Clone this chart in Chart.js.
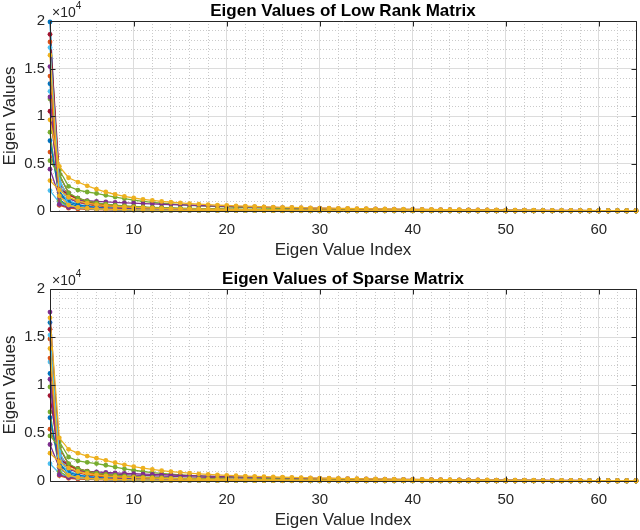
<!DOCTYPE html>
<html lang="en">
<head>
    <meta charset="UTF-8">
    <title>Eigen Values</title>
    <script src="https://cdn.jsdelivr.net/npm/chart.js"></script>
    <style>
        body { margin: 0; background: #fff; overflow: hidden; }
        .panel { position: absolute; left: 0; width: 640px; }
    </style>
</head>
<body>
    <div class="panel" style="top:0;height:265px"><canvas id="lowRankChart"></canvas></div>
    <div class="panel" style="top:265px;height:270px"><canvas id="sparseChart"></canvas></div>

    <script>
        // eigen value index 1..64
        const eigenIndex = [1,2,3,4,5,6,7,8,9,10,11,12,13,14,15,16,
            17,18,19,20,21,22,23,24,25,26,27,28,29,30,31,32,
            33,34,35,36,37,38,39,40,41,42,43,44,45,46,47,48,
            49,50,51,52,53,54,55,56,57,58,59,60,61,62,63,64];

        const xTicks = [10, 20, 30, 40, 50, 60];
        const xMinorTicks = [2,4,6,8,12,14,16,18,22,24,26,28,32,34,36,38,42,44,46,48,52,54,56,58,62,64];
        const yTicks = [0, 5000, 10000, 15000, 20000];
        const yMinorTicks = [1000,2000,3000,4000,6000,7000,8000,9000,11000,12000,13000,14000,16000,17000,18000,19000];

        const matlabColors = ['#0072BD', '#D95319', '#EDB120', '#7E2F8E', '#77AC30', '#4DBEEE', '#A2142F'];

        // ---- low rank matrix ----
        const lr01 = [19900, 1200, 520, 340, 260, 210, 175, 150, 130, 115, 102, 92, 84, 77, 71, 66,
            61, 57, 53, 50, 47, 44, 41, 39, 37, 35, 33, 31, 29, 28, 26, 25,
            24, 22, 21, 20, 19, 18, 17, 16, 15, 14, 13, 12, 12, 11, 10, 10,
            9, 8, 8, 7, 7, 6, 6, 5, 5, 4, 4, 3, 3, 2, 2, 1];
        const lr02 = [17800, 3200, 1400, 900, 680, 540, 450, 385, 335, 295, 262, 236, 214, 195, 179, 165,
            152, 141, 131, 122, 114, 107, 100, 94, 88, 83, 78, 74, 70, 66, 62, 59,
            56, 53, 50, 47, 45, 42, 40, 38, 36, 34, 32, 30, 28, 27, 25, 24,
            22, 21, 20, 18, 17, 16, 15, 14, 13, 12, 11, 10, 9, 8, 7, 6];
        const lr03 = [9600, 4700, 3500, 3050, 2650, 2300, 2000, 1750, 1540, 1370, 1230, 1110, 1010, 920, 845, 780,
            720, 668, 620, 578, 540, 505, 473, 444, 417, 392, 369, 348, 328, 310, 293, 277,
            262, 248, 235, 222, 210, 199, 188, 178, 168, 159, 150, 142, 134, 126, 119, 112,
            105, 99, 93, 87, 81, 76, 71, 66, 61, 56, 51, 47, 43, 39, 35, 31];
        const lr04 = [15200, 2600, 1300, 950, 780, 660, 570, 500, 440, 392, 352, 318, 289, 264, 242, 223,
            206, 191, 177, 165, 154, 144, 135, 127, 119, 112, 106, 100, 94, 89, 84, 80,
            76, 72, 68, 64, 61, 58, 55, 52, 49, 46, 44, 41, 39, 37, 35, 33,
            31, 29, 27, 25, 24, 22, 21, 19, 18, 16, 15, 13, 12, 10, 9, 8];
        const lr05 = [11800, 4300, 2600, 2200, 2000, 1850, 1650, 1470, 1300, 1150, 1020, 910, 815, 735, 665, 605,
            552, 505, 463, 426, 393, 363, 336, 312, 290, 270, 252, 235, 220, 206, 193, 181,
            170, 160, 150, 141, 133, 125, 118, 111, 105, 99, 93, 88, 83, 78, 74, 70,
            66, 62, 58, 55, 52, 49, 46, 43, 40, 37, 35, 33, 31, 29, 27, 25];
        const lr06 = [2150, 900, 420, 300, 240, 200, 170, 148, 130, 116, 104, 94, 86, 79, 73, 67,
            62, 58, 54, 50, 47, 44, 41, 38, 36, 34, 32, 30, 28, 27, 25, 24,
            22, 21, 20, 19, 18, 17, 16, 15, 14, 13, 12, 11, 11, 10, 9, 9,
            8, 8, 7, 7, 6, 6, 5, 5, 4, 4, 3, 3, 3, 2, 2, 2];
        const lr07 = [18600, 3800, 1900, 1250, 950, 770, 645, 552, 480, 422, 375, 336, 303, 275, 251, 230,
            212, 196, 181, 168, 156, 146, 136, 127, 119, 112, 105, 99, 93, 88, 83, 78,
            74, 70, 66, 62, 59, 56, 53, 50, 47, 45, 42, 40, 38, 36, 34, 32,
            30, 28, 27, 25, 24, 22, 21, 19, 18, 17, 15, 14, 13, 11, 10, 9];
        const lr08 = [13400, 2100, 800, 480, 350, 280, 232, 198, 172, 151, 134, 120, 108, 98, 90, 83,
            76, 70, 65, 60, 56, 52, 49, 46, 43, 40, 38, 36, 34, 32, 30, 28,
            27, 25, 24, 23, 21, 20, 19, 18, 17, 16, 15, 14, 13, 13, 12, 11,
            10, 10, 9, 8, 8, 7, 7, 6, 6, 5, 5, 4, 4, 3, 3, 2];
        const lr09 = [6200, 2900, 1700, 1200, 920, 740, 615, 522, 450, 393, 347, 309, 277, 250, 227, 207,
            190, 175, 162, 150, 139, 129, 120, 112, 105, 98, 92, 86, 81, 76, 72, 68,
            64, 60, 57, 54, 51, 48, 45, 43, 40, 38, 36, 34, 32, 30, 28, 27,
            25, 24, 22, 21, 19, 18, 17, 16, 14, 13, 12, 11, 10, 9, 8, 7];
        const lr10 = [16400, 1600, 620, 390, 290, 232, 193, 165, 143, 126, 112, 100, 90, 82, 75, 69,
            63, 58, 54, 50, 46, 43, 40, 37, 35, 33, 31, 29, 27, 25, 24, 22,
            21, 20, 19, 18, 17, 16, 15, 14, 13, 12, 11, 11, 10, 9, 9, 8,
            8, 7, 7, 6, 6, 5, 5, 4, 4, 4, 3, 3, 3, 2, 2, 2];
        const lr11 = [4400, 1500, 1250, 1150, 1080, 1010, 950, 900, 860, 820, 780, 745, 710, 675, 640, 610,
            580, 550, 522, 495, 470, 446, 423, 401, 380, 360, 341, 323, 306, 290, 275, 260,
            246, 233, 220, 208, 197, 186, 176, 166, 157, 148, 140, 132, 124, 117, 110, 104,
            98, 92, 86, 81, 76, 71, 66, 62, 58, 54, 50, 46, 42, 38, 35, 32];
        const lr12 = [8300, 1100, 450, 310, 245, 203, 172, 149, 131, 117, 105, 95, 86, 79, 72, 66,
            61, 57, 53, 49, 46, 43, 40, 38, 35, 33, 31, 29, 28, 26, 25, 23,
            22, 21, 20, 19, 18, 17, 16, 15, 14, 13, 12, 12, 11, 10, 10, 9,
            9, 8, 8, 7, 7, 6, 6, 5, 5, 4, 4, 3, 3, 3, 2, 2];
        const lr13 = [12600, 3400, 1150, 700, 510, 400, 328, 277, 239, 209, 185, 165, 148, 134, 122, 111,
            102, 94, 87, 81, 75, 70, 65, 61, 57, 53, 50, 47, 44, 42, 39, 37,
            35, 33, 31, 30, 28, 27, 25, 24, 23, 22, 21, 20, 19, 18, 17, 16,
            15, 14, 13, 12, 12, 11, 10, 9, 9, 8, 7, 7, 6, 5, 5, 4];
        const lr14 = [10500, 2400, 1700, 1350, 1050, 840, 690, 578, 492, 424, 369, 324, 287, 256, 230, 208,
            189, 172, 158, 145, 134, 124, 115, 107, 100, 93, 87, 82, 77, 72, 68, 64,
            60, 57, 54, 51, 48, 45, 43, 41, 39, 37, 35, 33, 31, 29, 28, 26,
            25, 23, 22, 21, 20, 18, 17, 16, 15, 14, 13, 12, 11, 10, 9, 8];
        const lr15 = [7400, 1750, 950, 640, 480, 385, 320, 273, 237, 208, 185, 166, 150, 136, 124, 114,
            105, 97, 90, 84, 78, 73, 68, 64, 60, 56, 53, 50, 47, 44, 42, 39,
            37, 35, 33, 31, 30, 28, 27, 25, 24, 23, 21, 20, 19, 18, 17, 16,
            15, 14, 13, 12, 12, 11, 10, 9, 9, 8, 7, 7, 6, 5, 5, 4];
        const lr16 = [14200, 600, 300, 215, 172, 145, 125, 110, 98, 88, 80, 73, 67, 62, 57, 53,
            49, 46, 43, 40, 38, 36, 34, 32, 30, 28, 27, 25, 24, 23, 22, 21,
            20, 19, 18, 17, 16, 15, 14, 14, 13, 12, 12, 11, 10, 10, 9, 9,
            8, 8, 7, 7, 6, 6, 5, 5, 5, 4, 4, 3, 3, 3, 2, 2];
        const lr17 = [3200, 2200, 1450, 1050, 820, 670, 565, 487, 427, 379, 340, 307, 279, 255, 234, 216,
            200, 186, 173, 161, 150, 140, 131, 123, 115, 108, 102, 96, 90, 85, 80, 75,
            71, 67, 63, 60, 56, 53, 50, 47, 45, 42, 40, 38, 35, 33, 31, 30,
            28, 26, 24, 23, 21, 20, 18, 17, 16, 14, 13, 12, 11, 10, 9, 8];
        const lr18 = [12000, 700, 380, 330, 300, 280, 262, 246, 232, 219, 207, 196, 186, 176, 167, 159,
            151, 143, 136, 129, 123, 117, 111, 105, 100, 95, 90, 86, 82, 78, 74, 70,
            67, 64, 61, 58, 55, 52, 50, 47, 45, 43, 41, 39, 37, 35, 33, 31,
            30, 28, 27, 25, 24, 22, 21, 20, 18, 17, 16, 15, 14, 13, 12, 11];
        const lr19 = [5300, 3800, 1900, 1350, 1050, 860, 725, 625, 547, 484, 433, 390, 354, 323, 296, 272,
            251, 232, 215, 200, 186, 173, 161, 150, 140, 131, 123, 115, 108, 101, 95, 89,
            84, 79, 74, 70, 66, 62, 58, 55, 52, 49, 46, 43, 41, 38, 36, 34,
            32, 30, 28, 26, 24, 22, 21, 19, 18, 16, 15, 14, 13, 12, 11, 10];
        const lr20 = [17200, 2800, 650, 360, 255, 198, 162, 137, 118, 104, 93, 84, 76, 69, 63, 58,
            54, 50, 47, 44, 41, 38, 36, 34, 32, 30, 28, 27, 25, 24, 23, 21,
            20, 19, 18, 17, 16, 15, 14, 14, 13, 12, 11, 11, 10, 9, 9, 8,
            8, 7, 7, 6, 6, 5, 5, 4, 4, 4, 3, 3, 3, 2, 2, 2];

        // ---- sparse matrix ----
        const sp01 = [16500, 1400, 560, 360, 272, 218, 181, 155, 134, 118, 105, 94, 85, 78, 72, 66,
            61, 57, 53, 49, 46, 43, 40, 38, 35, 33, 31, 29, 28, 26, 25, 23,
            22, 21, 20, 19, 18, 17, 16, 15, 14, 13, 12, 12, 11, 10, 10, 9,
            8, 8, 7, 7, 6, 6, 5, 5, 4, 4, 3, 3, 3, 2, 2, 1];
        const sp02 = [14800, 2900, 1300, 850, 640, 510, 425, 363, 316, 279, 248, 223, 202, 184, 169, 156,
            144, 133, 124, 116, 108, 101, 95, 89, 84, 79, 74, 70, 66, 62, 59, 56,
            53, 50, 47, 45, 42, 40, 38, 36, 34, 32, 30, 28, 27, 25, 24, 22,
            21, 20, 18, 17, 16, 15, 14, 13, 12, 11, 10, 9, 8, 7, 6, 5];
        const sp03 = [17000, 4500, 3300, 2900, 2600, 2380, 2150, 1900, 1680, 1500, 1340, 1200, 1080, 980, 890, 815,
            748, 690, 638, 592, 550, 512, 478, 447, 418, 392, 368, 346, 325, 306, 288, 271,
            255, 240, 226, 213, 201, 190, 179, 169, 159, 150, 141, 133, 125, 118, 111, 104,
            98, 92, 86, 81, 76, 71, 66, 61, 57, 53, 49, 45, 41, 37, 34, 31];
        const sp04 = [17600, 2400, 1200, 1000, 900, 830, 770, 715, 665, 620, 580, 545, 512, 482, 455, 430,
            406, 384, 363, 343, 325, 308, 291, 276, 261, 247, 234, 222, 210, 199, 189, 179,
            169, 160, 152, 144, 136, 129, 122, 115, 109, 103, 97, 92, 87, 82, 77, 73,
            69, 65, 61, 57, 54, 50, 47, 44, 41, 38, 35, 32, 29, 27, 24, 22];
        const sp05 = [9800, 4100, 2500, 2100, 1950, 1820, 1640, 1450, 1270, 1120, 990, 880, 790, 712, 645, 588,
            537, 492, 452, 416, 384, 355, 329, 305, 284, 264, 246, 230, 215, 201, 188, 176,
            165, 155, 146, 137, 129, 121, 114, 108, 102, 96, 90, 85, 80, 76, 72, 68,
            64, 60, 57, 54, 51, 48, 45, 42, 39, 37, 35, 33, 31, 29, 27, 25];
        const sp06 = [1800, 800, 380, 275, 222, 186, 160, 140, 124, 111, 100, 91, 83, 76, 70, 65,
            60, 56, 52, 48, 45, 42, 39, 37, 35, 33, 31, 29, 27, 26, 24, 23,
            21, 20, 19, 18, 17, 16, 15, 14, 13, 12, 12, 11, 10, 10, 9, 9,
            8, 7, 7, 6, 6, 5, 5, 4, 4, 4, 3, 3, 2, 2, 2, 1];
        const sp07 = [15800, 3500, 1750, 1150, 880, 715, 600, 515, 448, 395, 352, 316, 285, 259, 237, 217,
            200, 185, 171, 159, 148, 138, 129, 121, 113, 106, 100, 94, 88, 83, 78, 74,
            70, 66, 62, 59, 56, 53, 50, 47, 45, 42, 40, 38, 36, 34, 32, 30,
            28, 27, 25, 24, 22, 21, 19, 18, 17, 15, 14, 13, 12, 11, 9, 8];
        const sp08 = [11200, 1900, 740, 450, 330, 265, 221, 189, 164, 144, 128, 115, 104, 94, 86, 79,
            73, 67, 62, 58, 54, 50, 47, 44, 41, 39, 36, 34, 32, 30, 29, 27,
            26, 24, 23, 22, 20, 19, 18, 17, 16, 15, 14, 14, 13, 12, 11, 11,
            10, 9, 9, 8, 8, 7, 7, 6, 6, 5, 5, 4, 4, 3, 3, 2];
        const sp09 = [5400, 2700, 1600, 1120, 860, 695, 578, 492, 425, 372, 329, 293, 263, 238, 216, 197,
            181, 167, 154, 143, 133, 124, 115, 108, 101, 94, 88, 83, 78, 73, 69, 65,
            61, 58, 55, 52, 49, 46, 43, 41, 39, 37, 35, 33, 31, 29, 27, 26,
            24, 23, 21, 20, 19, 17, 16, 15, 14, 13, 12, 11, 10, 9, 8, 7];
        const sp10 = [13800, 1500, 590, 370, 275, 220, 183, 157, 136, 120, 107, 96, 87, 79, 72, 66,
            61, 56, 52, 48, 45, 42, 39, 36, 34, 32, 30, 28, 26, 25, 23, 22,
            21, 20, 19, 18, 17, 16, 15, 14, 13, 12, 11, 11, 10, 9, 9, 8,
            8, 7, 7, 6, 6, 5, 5, 4, 4, 4, 3, 3, 3, 2, 2, 2];
        const sp11 = [3800, 1400, 1150, 1060, 1000, 940, 885, 840, 800, 760, 725, 690, 656, 624, 594, 565,
            538, 512, 487, 463, 440, 418, 397, 377, 358, 340, 323, 306, 290, 275, 261, 247,
            234, 222, 210, 199, 188, 178, 168, 159, 150, 142, 134, 126, 119, 112, 106, 100,
            94, 88, 83, 78, 73, 68, 64, 60, 56, 52, 48, 44, 41, 38, 35, 32];
        const sp12 = [7200, 1000, 420, 295, 235, 195, 166, 144, 127, 113, 102, 92, 84, 77, 70, 65,
            60, 56, 52, 48, 45, 42, 39, 37, 34, 32, 30, 29, 27, 26, 24, 23,
            22, 21, 20, 19, 18, 17, 16, 15, 14, 13, 12, 12, 11, 10, 10, 9,
            9, 8, 8, 7, 7, 6, 6, 5, 5, 4, 4, 3, 3, 3, 2, 2];
        const sp13 = [12400, 3100, 1080, 670, 490, 387, 319, 270, 233, 204, 181, 162, 146, 132, 120, 110,
            101, 93, 86, 80, 74, 69, 64, 60, 56, 52, 49, 46, 43, 41, 38, 36,
            34, 32, 30, 29, 27, 26, 24, 23, 22, 21, 20, 19, 18, 17, 16, 15,
            14, 13, 12, 12, 11, 10, 10, 9, 8, 8, 7, 6, 6, 5, 5, 4];
        const sp14 = [8900, 2300, 1650, 1300, 1020, 820, 675, 566, 482, 416, 362, 318, 282, 252, 226, 204,
            186, 170, 156, 143, 132, 122, 113, 105, 98, 92, 86, 80, 75, 71, 67, 63,
            59, 56, 53, 50, 47, 45, 42, 40, 38, 36, 34, 32, 30, 29, 27, 26,
            24, 23, 22, 20, 19, 18, 17, 16, 15, 14, 13, 12, 11, 10, 9, 8];
        const sp15 = [6600, 1650, 900, 610, 460, 370, 308, 263, 228, 200, 178, 160, 144, 131, 120, 110,
            101, 94, 87, 81, 75, 70, 66, 62, 58, 54, 51, 48, 45, 43, 40, 38,
            36, 34, 32, 30, 29, 27, 26, 24, 23, 22, 21, 20, 19, 18, 17, 16,
            15, 14, 13, 12, 11, 11, 10, 9, 8, 8, 7, 6, 6, 5, 5, 4];
        const sp16 = [12800, 560, 285, 205, 165, 139, 120, 106, 95, 85, 77, 70, 65, 60, 55, 51,
            48, 45, 42, 39, 37, 35, 33, 31, 29, 28, 26, 25, 24, 22, 21, 20,
            19, 18, 17, 16, 15, 15, 14, 13, 12, 12, 11, 10, 10, 9, 9, 8,
            8, 7, 7, 6, 6, 5, 5, 5, 4, 4, 3, 3, 3, 2, 2, 2];
        const sp17 = [2900, 2000, 1350, 990, 780, 640, 540, 466, 409, 363, 326, 295, 268, 245, 225, 208,
            193, 179, 167, 155, 145, 136, 127, 119, 112, 105, 99, 93, 88, 83, 78, 73,
            69, 65, 61, 58, 55, 52, 49, 46, 44, 41, 39, 37, 35, 33, 31, 29,
            27, 25, 24, 22, 21, 19, 18, 17, 15, 14, 13, 12, 11, 10, 9, 8];
        const sp18 = [10600, 650, 360, 315, 288, 268, 251, 236, 222, 210, 199, 188, 178, 169, 160, 152,
            145, 138, 131, 124, 118, 112, 107, 101, 96, 92, 87, 83, 79, 75, 71, 68,
            65, 62, 59, 56, 53, 51, 48, 46, 44, 42, 40, 38, 36, 34, 32, 30,
            29, 27, 26, 24, 23, 21, 20, 19, 18, 16, 15, 14, 13, 12, 11, 10];
        const sp19 = [4700, 3600, 1800, 1280, 1000, 820, 692, 597, 523, 463, 414, 373, 339, 309, 283, 260,
            240, 222, 206, 191, 178, 166, 155, 144, 135, 126, 118, 111, 104, 97, 91, 86,
            81, 76, 71, 67, 63, 59, 56, 53, 50, 47, 44, 41, 39, 37, 35, 33,
            31, 29, 27, 25, 23, 21, 20, 18, 17, 16, 15, 14, 13, 12, 11, 10];
        const sp20 = [15200, 2600, 610, 340, 242, 189, 155, 131, 113, 100, 89, 80, 73, 66, 61, 56,
            52, 48, 45, 42, 39, 37, 35, 33, 31, 29, 27, 26, 24, 23, 22, 21,
            20, 19, 18, 17, 16, 15, 14, 13, 12, 12, 11, 10, 10, 9, 9, 8,
            8, 7, 7, 6, 6, 5, 5, 4, 4, 4, 3, 3, 3, 2, 2, 2];

        const lowRankSeries = [lr01, lr02, lr03, lr04, lr05, lr06, lr07, lr08, lr09, lr10,
            lr11, lr12, lr13, lr14, lr15, lr16, lr17, lr18, lr19, lr20];
        const sparseSeries = [sp01, sp02, sp03, sp04, sp05, sp06, sp07, sp08, sp09, sp10,
            sp11, sp12, sp13, sp14, sp15, sp16, sp17, sp18, sp19, sp20];

        const FONT = '"Liberation Sans", Arial, Helvetica, sans-serif';
        const AXIS_COLOR = '#262626';

        // box, inward ticks, title and the x10^4 factor (MATLAB look)
        const matlabFrame = {
            id: 'matlabFrame',
            afterDraw(chart, args, opts) {
                const { ctx, chartArea: a, scales } = chart;
                ctx.save();
                ctx.strokeStyle = AXIS_COLOR;
                ctx.lineWidth = 1;
                const L = Math.round(a.left) + 0.5, R = Math.round(a.right) + 0.5;
                const T = Math.round(a.top) + 0.5, B = Math.round(a.bottom) + 0.5;
                ctx.beginPath();
                ctx.rect(L, T, R - L, B - T);
                xTicks.forEach(v => {
                    const px = Math.round(scales.x.getPixelForValue(v)) + 0.5;
                    ctx.moveTo(px, B); ctx.lineTo(px, B - 5);
                    ctx.moveTo(px, T); ctx.lineTo(px, T + 5);
                });
                yTicks.forEach(v => {
                    const py = Math.round(scales.y.getPixelForValue(v)) + 0.5;
                    ctx.moveTo(L, py); ctx.lineTo(L + 5, py);
                    ctx.moveTo(R, py); ctx.lineTo(R - 5, py);
                });
                ctx.stroke();

                ctx.fillStyle = '#000';
                ctx.font = 'bold 17px ' + FONT;
                ctx.textAlign = 'center';
                ctx.textBaseline = 'alphabetic';
                ctx.fillText(opts.title, (a.left + a.right) / 2, a.top - 5);

                ctx.fillStyle = AXIS_COLOR;
                ctx.textAlign = 'left';
                ctx.font = '14px ' + FONT;
                ctx.fillText('\u00d710', a.left + 2, a.top - 4);
                const w = ctx.measureText('\u00d710').width;
                ctx.font = '10px ' + FONT;
                ctx.fillText('4', a.left + 2 + w, a.top - 12);
                ctx.restore();
            }
        };

        function makeChart(canvasId, title, seriesList, plotTop, axisHeight) {
            const datasets = seriesList.map((values, i) => {
                const c = matlabColors[i % matlabColors.length];
                return {
                    label: 'Column ' + (i + 1),
                    data: values,
                    borderColor: c,
                    backgroundColor: c,
                    borderWidth: 1.3,
                    pointRadius: 2.4,
                    pointBorderWidth: 0,
                    pointBackgroundColor: c,
                    tension: 0,
                    clip: false,
                    // yellow curves end up on top, like the last plotted lines
                    order: (i % matlabColors.length === 2) ? -100 - i : -i
                };
            });

            return new Chart(document.getElementById(canvasId), {
                type: 'line',
                data: { labels: eigenIndex, datasets: datasets },
                plugins: [matlabFrame],
                options: {
                    responsive: true,
                    maintainAspectRatio: false,
                    animation: false,
                    devicePixelRatio: 1,
                    layout: { padding: { top: plotTop, right: 3, left: 0, bottom: 0 } },
                    plugins: {
                        legend: { display: false },
                        tooltip: { enabled: false },
                        matlabFrame: { title: title }
                    },
                    scales: {
                        x: {
                            type: 'linear', min: 1, max: 64,
                            afterBuildTicks: s => { s.ticks = xTicks.map(v => ({ value: v })); },
                            afterFit: s => { s.height = axisHeight; },
                            grid: { color: '#dcdcdc', drawTicks: false },
                            border: { display: false },
                            ticks: { color: AXIS_COLOR, padding: 10, maxRotation: 0, font: { family: FONT, size: 15 } },
                            title: { display: true, text: 'Eigen Value Index', color: AXIS_COLOR, padding: { top: 0, bottom: 4 }, font: { family: FONT, size: 17 } }
                        },
                        xMinor: {
                            type: 'linear', min: 1, max: 64, position: 'bottom',
                            afterBuildTicks: s => { s.ticks = xMinorTicks.map(v => ({ value: v })); },
                            afterFit: s => { s.height = 0; },
                            grid: { color: '#cacaca', drawTicks: false },
                            border: { display: false, dash: [1, 2] },
                            ticks: { display: false }
                        },
                        y: {
                            type: 'linear', min: 0, max: 20000,
                            afterBuildTicks: s => { s.ticks = yTicks.map(v => ({ value: v })); },
                            afterFit: s => { s.width = 50; },
                            grid: { color: '#dcdcdc', drawTicks: false },
                            border: { display: false },
                            ticks: { color: AXIS_COLOR, padding: 5, font: { family: FONT, size: 15 },
                                callback: v => String(v / 10000) },
                            title: { display: true, text: 'Eigen Values', color: AXIS_COLOR, padding: { top: 0, bottom: 0 }, font: { family: FONT, size: 17 } }
                        },
                        yMinor: {
                            type: 'linear', min: 0, max: 20000, position: 'left',
                            afterBuildTicks: s => { s.ticks = yMinorTicks.map(v => ({ value: v })); },
                            afterFit: s => { s.width = 0; },
                            grid: { color: '#cacaca', drawTicks: false },
                            border: { display: false, dash: [1, 2] },
                            ticks: { display: false }
                        }
                    }
                }
            });
        }

        makeChart('lowRankChart', 'Eigen Values of Low Rank Matrix', lowRankSeries, 21, 54);
        makeChart('sparseChart', 'Eigen Values of Sparse Matrix', sparseSeries, 24, 54);
    </script>
</body>
</html>
